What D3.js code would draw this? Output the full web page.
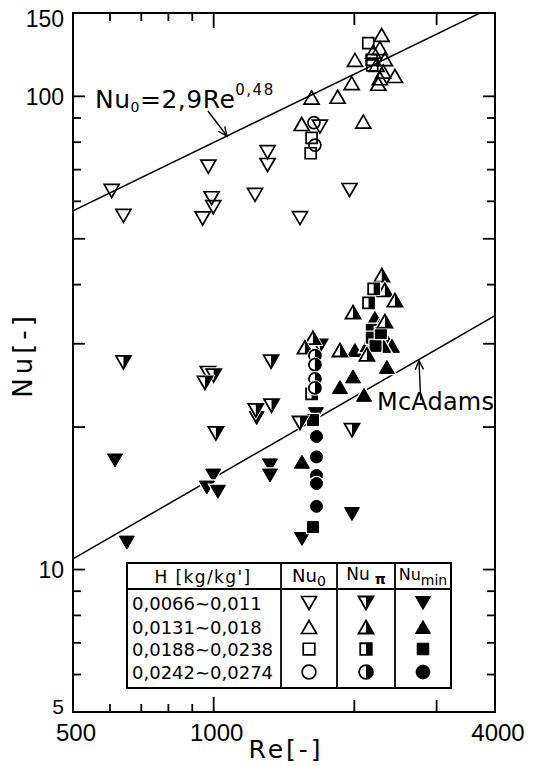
<!DOCTYPE html>
<html><head><meta charset="utf-8">
<script src="https://cdn.jsdelivr.net/npm/d3@7"></script>
<style>body{margin:0;background:#fff}svg{display:block}</style>
</head><body>
<svg id="c" width="534" height="766"></svg>
<script>
// ---------------- data ----------------
const xMinorTicks = [600, 700, 800, 900, 1000, 2000, 3000];
const yMinorTicks = [6, 7, 8, 9, 10, 20, 30, 40, 50, 60, 70, 80, 90, 100];
const longTicks = [10, 20, 30, 50, 100, 1000, 2000, 3000];
const xTickLabels = [500, 1000, 4000];
const yTickLabels = [5, 10, 100, 150];

const hRanges = ["0,0066∼0,011", "0,0131∼0,018", "0,0188∼0,0238", "0,0242∼0,0274"];
const hShapes = ["tdown", "tup", "square", "circle"];

// Nu0 (open symbols)
const nu0H1Re = [605, 641, 974, 990, 998, 947, 1226, 1304, 1304, 1530, 1953, 1688];
const nu0H1Nu = [63.1, 55.9, 71.0, 60.9, 58.3, 55.2, 61.9, 76.2, 71.6, 55.3, 63.4, 86.3];
const nu0H2Re = [2288, 2195, 2268, 2006, 2325, 2232, 2306, 2443, 2268, 2250, 1974, 1842, 1620, 2090, 1543];
const nu0H2Nu = [134.8, 124.3, 126.4, 119.4, 119.8, 116.5, 112.8, 110.4, 109.2, 106.3, 106.6, 99.8, 99.4, 88.4, 87.4];
const nu0H3Re = [2142, 2178, 2185, 1620, 1613];
const nu0H3Nu = [129.5, 119.4, 116.2, 81.7, 75.8];
const nu0H4Re = [1639, 1647];
const nu0H4Nu = [88.0, 78.9];

// Nu_pi (half filled symbols)
const nuPiH1Re = [641, 972, 1000, 958, 1327, 1231, 1330, 1011, 1530, 1977, 1688];
const nuPiH1Nu = [27.4, 26.0, 25.7, 24.8, 27.5, 21.7, 22.2, 19.4, 20.4, 19.7, 29.7];
const nuPiH2Re = [2290, 2325, 2443, 1987, 2325, 1631, 1568, 1863, 2128];
const nuPiH2Nu = [41.9, 39.0, 37.1, 35.0, 33.5, 30.9, 29.5, 29.1, 28.5];
const nuPiH3Re = [2200, 2145, 1620];
const nuPiH3Nu = [39.2, 36.6, 23.5];
const nuPiH4Re = [1647, 1647, 1647, 1647];
const nuPiH4Nu = [28.3, 27.1, 25.3, 24.2];

// Nu_min (filled symbols)
const nuMinH1Re = [615, 652, 998, 967, 1021, 1320, 1320, 1236, 1977, 1545, 1655];
const nuMinH1Nu = [17.0, 11.4, 15.8, 14.9, 14.6, 16.6, 15.8, 20.9, 13.1, 11.6, 21.3];
const nuMinH2Re = [2006, 2348, 1987, 1863, 2098, 1545, 2213, 2268, 2355, 2135, 2407, 2246, 2306];
const nuMinH2Nu = [29.1, 26.8, 25.6, 24.3, 23.4, 16.9, 34.0, 32.7, 30.3, 29.8, 29.7, 30.9, 29.7];
const nuMinH3Re = [1631, 1631, 2180, 2180, 2220, 2279];
const nuMinH3Nu = [20.7, 12.3, 32.1, 30.9, 29.7, 31.6];
const nuMinH4Re = [1660, 1660, 1660, 1660, 1660];
const nuMinH4Nu = [19.1, 17.3, 15.8, 15.2, 13.6];

// correlation lines
const nu0Coef = 2.9, nu0Exp = 0.48;
const nu0LineRe = [500, 4000];
const mcAdamsRe = [500, 4000];
const mcAdamsNu = [10.53, 34.4];

// ---------------- layout ----------------
const X0 = 73, X1 = 495, Y0 = 712, Y1 = 13;
const x = d3.scaleLog().domain([500, 4000]).range([X0, X1]);
const y = d3.scaleLog().domain([5, 150]).range([Y0, Y1]);

const svg = d3.select('#c');
svg.append('rect').attr('width', 534).attr('height', 766).attr('fill', '#fff');
const defs = svg.append('defs');
defs.append('clipPath').attr('id', 'plot').append('rect')
  .attr('x', X0).attr('y', Y1).attr('width', X1 - X0).attr('height', Y0 - Y1);
defs.append('clipPath').attr('id', 'rh').append('rect')
  .attr('x', 0).attr('y', -20).attr('width', 20).attr('height', 40);

function shapePath(s, k) {
  const w = 7.5 * k, h = 6.5 * k, q = 5.5 * k, r = 6 * k;
  if (s === 'tdown') return `M${-w},${-h}L${w},${-h}L0,${h}Z`;
  if (s === 'tup') return `M${-w},${h}L${w},${h}L0,${-h}Z`;
  if (s === 'square') return `M${-q},${-q}H${q}V${q}H${-q}Z`;
  return `M${-r},0A${r},${r} 0 1 1 ${r},0A${r},${r} 0 1 1 ${-r},0Z`;
}
function drawMarker(g, shape, kind, k) {
  const d = shapePath(shape, k);
  if (kind === 'open') {
    g.append('path').attr('d', d).attr('fill', 'none').attr('stroke', '#000').attr('stroke-width', 1.7);
    return;
  }
  g.append('path').attr('d', d).attr('fill', '#fff').attr('stroke', '#fff').attr('stroke-width', 3.5);
  if (kind === 'full') {
    g.append('path').attr('d', d).attr('fill', '#000').attr('stroke', '#000').attr('stroke-width', 1);
  } else {
    g.append('path').attr('d', d).attr('fill', '#000').attr('clip-path', 'url(#rh)');
    g.append('path').attr('d', d).attr('fill', 'none').attr('stroke', '#000').attr('stroke-width', 1.8);
  }
}

// ---------------- lines ----------------
const lineGen = d3.line().x(d => x(d[0])).y(d => y(d[1]));
const lines = svg.append('g').attr('clip-path', 'url(#plot)');
lines.append('path')
  .attr('d', lineGen(nu0LineRe.map(r => [r, nu0Coef * Math.pow(r, nu0Exp)])))
  .attr('fill', 'none').attr('stroke', '#000').attr('stroke-width', 1.5);
lines.append('path')
  .attr('d', lineGen(mcAdamsRe.map((r, i) => [r, mcAdamsNu[i]])))
  .attr('fill', 'none').attr('stroke', '#000').attr('stroke-width', 1.5);

// ---------------- markers ----------------
const series = [
  [nu0H1Re, nu0H1Nu, 'tdown', 'open'], [nu0H2Re, nu0H2Nu, 'tup', 'open'],
  [nu0H3Re, nu0H3Nu, 'square', 'open'], [nu0H4Re, nu0H4Nu, 'circle', 'open'],
  [nuMinH1Re, nuMinH1Nu, 'tdown', 'full'], [nuMinH2Re, nuMinH2Nu, 'tup', 'full'],
  [nuMinH3Re, nuMinH3Nu, 'square', 'full'], [nuMinH4Re, nuMinH4Nu, 'circle', 'full'],
  [nuPiH1Re, nuPiH1Nu, 'tdown', 'half'], [nuPiH2Re, nuPiH2Nu, 'tup', 'half'],
  [nuPiH3Re, nuPiH3Nu, 'square', 'half'], [nuPiH4Re, nuPiH4Nu, 'circle', 'half']
];
const mk = svg.append('g');
series.forEach(([res, nus, shape, kind]) => {
  res.forEach((r, i) => {
    const g = mk.append('g').attr('transform', `translate(${x(r)},${y(nus[i])})`);
    drawMarker(g, shape, kind, 1);
  });
});

// ---------------- annotations ----------------
function arrow(x1, y1, x2, y2) {
  const g = svg.append('g').attr('stroke', '#000').attr('stroke-width', 1.4).attr('fill', 'none');
  g.append('line').attr('x1', x1).attr('y1', y1).attr('x2', x2).attr('y2', y2);
  const a = Math.atan2(y2 - y1, x2 - x1), L = 10, s = 0.42;
  g.append('path').attr('d',
    `M${x2 - L * Math.cos(a - s)},${y2 - L * Math.sin(a - s)}L${x2},${y2}L${x2 - L * Math.cos(a + s)},${y2 - L * Math.sin(a + s)}`);
}
const reA = 1068;
arrow(x(972), y(93.1), x(reA), y(nu0Coef * Math.pow(reA, nu0Exp)));
const reB = 2750;
const mcAt = mcAdamsNu[0] * Math.pow(reB / mcAdamsRe[0], Math.log(mcAdamsNu[1] / mcAdamsNu[0]) / Math.log(mcAdamsRe[1] / mcAdamsRe[0]));
arrow(x(2775), y(22.8), x(reB), y(mcAt) + 1);

const fam = "'DejaVu Sans', sans-serif";
const t1 = svg.append('text').attr('x', 95).attr('y', 108).attr('font-family', fam).attr('font-size', 25).attr('letter-spacing', 0.5);
t1.append('tspan').text('Nu');
t1.append('tspan').attr('font-size', 14).attr('dy', 4).text('0');
t1.append('tspan').attr('dy', -4).text('=2,9Re');
t1.append('tspan').attr('font-size', 15).attr('dy', -13).attr('letter-spacing', 1.5).text('0,48');

svg.append('text').attr('x', 377).attr('y', 410).attr('font-family', fam).attr('font-size', 24)
  .attr('letter-spacing', 0.2).text('McAdams');

// ---------------- axes ----------------
const ax = svg.append('g').attr('stroke', '#000');
ax.append('rect').attr('x', X0).attr('y', Y1).attr('width', X1 - X0).attr('height', Y0 - Y1)
  .attr('fill', 'none').attr('stroke-width', 2);
const tl = v => v === 1000 ? 15 : (longTicks.includes(v) ? 12 : 8);
ax.selectAll('.xb').data(xMinorTicks).join('line')
  .attr('x1', d => x(d)).attr('x2', d => x(d)).attr('y1', Y0).attr('y2', d => Y0 - tl(d)).attr('stroke-width', 1.8);
ax.selectAll('.xt').data(xMinorTicks).join('line')
  .attr('x1', d => x(d)).attr('x2', d => x(d)).attr('y1', Y1).attr('y2', d => Y1 + tl(d)).attr('stroke-width', 1.8);
ax.selectAll('.yl').data(yMinorTicks).join('line')
  .attr('y1', d => y(d)).attr('y2', d => y(d)).attr('x1', X0).attr('x2', d => X0 + tl(d)).attr('stroke-width', 1.8);
ax.selectAll('.yr').data(yMinorTicks).join('line')
  .attr('y1', d => y(d)).attr('y2', d => y(d)).attr('x1', X1).attr('x2', d => X1 - tl(d)).attr('stroke-width', 1.8);

const tf = "'Liberation Sans', Arial, sans-serif";
svg.selectAll('.xl').data(xTickLabels).join('text')
  .attr('x', d => x(d) + 3).attr('y', 741).attr('text-anchor', 'middle')
  .attr('font-family', tf).attr('font-size', 24).text(d => d);
svg.selectAll('.ylab').data(yTickLabels).join('text')
  .attr('x', 64).attr('y', d => d === 5 ? 714 : Math.max(y(d) + 8.5, 27)).attr('text-anchor', 'end')
  .attr('font-family', tf).attr('font-size', d => d === 5 ? 21 : 23).text(d => d);

svg.append('text').attr('x', 286).attr('y', 758).attr('text-anchor', 'middle')
  .attr('font-family', fam).attr('font-size', 25).attr('letter-spacing', 3).text('Re[-]');
svg.append('text').attr('transform', 'translate(32,355) rotate(-90)').attr('text-anchor', 'middle')
  .attr('font-family', fam).attr('font-size', 26).attr('letter-spacing', 4).text('Nu[-]');

// ---------------- legend table ----------------
const LX0 = 127, LX1 = 451, LY0 = 563, LY1 = 688, LH = 589;
const colX = [281, 337, 395];
const colC = [309, 366, 423];
const rowY = [603, 627, 649, 672];
const lg = svg.append('g');
lg.append('rect').attr('x', LX0).attr('y', LY0).attr('width', LX1 - LX0).attr('height', LY1 - LY0)
  .attr('fill', '#fff').attr('stroke', '#000').attr('stroke-width', 2);
lg.append('line').attr('x1', LX0).attr('x2', LX1).attr('y1', LH).attr('y2', LH).attr('stroke', '#000').attr('stroke-width', 1.8);
colX.forEach(cx => lg.append('line').attr('x1', cx).attr('x2', cx).attr('y1', LY0).attr('y2', LY1)
  .attr('stroke', '#000').attr('stroke-width', 1.8));
lg.append('text').attr('x', 203).attr('y', 583).attr('text-anchor', 'middle').attr('font-family', fam)
  .attr('font-size', 17).attr('letter-spacing', 1.4).text("H [kg/kg']");
const h2 = lg.append('text').attr('x', colC[0]).attr('y', 582).attr('text-anchor', 'middle').attr('font-family', fam).attr('font-size', 18);
h2.append('tspan').text('Nu'); h2.append('tspan').attr('font-size', 14).attr('dy', 4).text('0');
const h3 = lg.append('text').attr('x', colC[1]).attr('y', 580).attr('text-anchor', 'middle').attr('font-family', fam).attr('font-size', 17);
h3.append('tspan').text('Nu'); h3.append('tspan').attr('font-size', 14).attr('dy', 4).attr('font-weight', 'bold').text(' π');
const h4 = lg.append('text').attr('x', colC[2]).attr('y', 580).attr('text-anchor', 'middle').attr('font-family', fam).attr('font-size', 16);
h4.append('tspan').text('Nu'); h4.append('tspan').attr('font-size', 14).attr('dy', 5).text('min');
hRanges.forEach((t, i) => {
  lg.append('text').attr('x', 132).attr('y', rowY[i] + 7).attr('font-family', fam).attr('font-size', 18).text(t);
  ['open', 'half', 'full'].forEach((kind, j) => {
    const g = lg.append('g').attr('transform', `translate(${colC[j]},${rowY[i]})`);
    drawMarker(g, hShapes[i], kind, hShapes[i] === 'circle' ? 1.15 : (hShapes[i] === 'square' ? 1.05 : 1));
  });
});
</script>
</body></html>
